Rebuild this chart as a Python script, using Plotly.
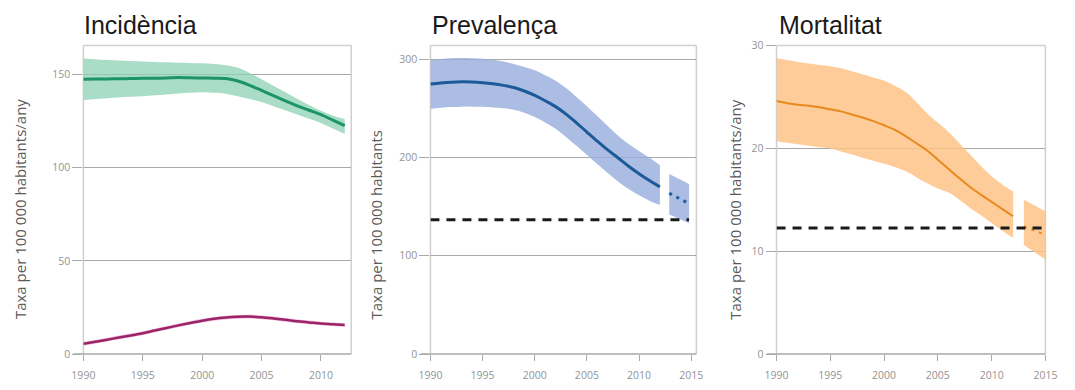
import plotly.graph_objects as go

W, H = 1075, 390

# ---- data -------------------------------------------------------------
years = list(range(1990, 2013))

# Incidència (taxa per 100 000 habitants/any)
inc_green = [147.4, 147.5, 147.6, 147.7, 147.8, 147.9, 148.0, 148.1, 148.3, 148.2, 148.1, 148.0,
             147.8, 146.5, 144.2, 141.4, 138.6, 135.8, 133.2, 130.8, 128.4, 125.5, 122.5]
inc_green_hi = [158.6, 158.2, 157.8, 157.5, 157.2, 156.9, 156.7, 156.5, 156.3, 156.2, 156.0, 155.6,
                155.0, 153.6, 150.8, 147.4, 144.0, 140.5, 137.0, 133.6, 130.5, 128.0, 126.0]
inc_green_lo = [136.2, 136.8, 137.3, 137.7, 138.0, 138.3, 138.8, 139.3, 139.8, 140.2, 140.5, 140.2,
                139.7, 138.3, 136.8, 135.2, 133.0, 130.8, 128.5, 126.2, 124.0, 121.0, 118.0]
inc_pink = [5.5, 6.6, 7.7, 8.9, 10.0, 11.2, 12.6, 14.0, 15.4, 16.7, 17.9, 18.9,
            19.6, 20.0, 20.1, 19.7, 19.1, 18.4, 17.6, 17.0, 16.4, 16.0, 15.6]
inc_pink_hi = [6.5, 7.6, 8.7, 9.9, 11.0, 12.2, 13.6, 15.0, 16.4, 17.7, 18.9, 19.9,
               20.6, 21.0, 21.1, 20.7, 20.1, 19.4, 18.6, 18.0, 17.4, 17.0, 16.6]
inc_pink_lo = [4.5, 5.6, 6.7, 7.9, 9.0, 10.2, 11.6, 13.0, 14.4, 15.7, 16.9, 17.9,
               18.6, 19.0, 19.1, 18.7, 18.1, 17.4, 16.6, 16.0, 15.4, 15.0, 14.6]

# Prevalença (taxa per 100 000 habitants)
prev = [274.5, 275.6, 276.4, 276.8, 276.6, 275.9, 274.8, 273.2, 271.0, 267.5, 263.0, 257.6,
        251.6, 244.0, 235.2, 225.8, 216.5, 207.6, 199.4, 191.0, 183.4, 176.4, 170.0]
prev_hi = [299.0, 300.0, 300.8, 301.0, 300.8, 300.2, 299.2, 297.5, 295.0, 292.0, 288.5, 283.5,
           278.0, 270.5, 261.5, 252.0, 242.0, 232.0, 222.0, 213.5, 206.5, 199.5, 192.0]
prev_lo = [249.5, 250.5, 251.2, 251.6, 251.6, 251.4, 250.8, 250.0, 248.5, 245.5, 241.0, 235.5,
           229.0, 220.8, 211.8, 202.6, 193.2, 184.0, 175.3, 167.8, 161.4, 156.0, 151.5]
prev_fc_years = [2012.9, 2014.8]
prev_fc = [163.5, 153.0]
prev_fc_hi = [183.0, 173.0]
prev_fc_lo = [142.0, 133.0]
prev_target = 136.6
prev_target_years = [1990, 2014.8]

# Mortalitat (taxa per 100 000 habitants/any)
mort = [24.6, 24.4, 24.25, 24.15, 24.0, 23.8, 23.6, 23.3, 23.0, 22.65, 22.25, 21.8,
        21.2, 20.5, 19.8, 18.9, 18.0, 17.1, 16.25, 15.5, 14.8, 14.1, 13.4]
mort_hi = [28.8, 28.6, 28.4, 28.25, 28.1, 28.0, 27.8, 27.5, 27.2, 26.9, 26.6, 26.1,
           25.5, 24.5, 23.4, 22.5, 21.6, 20.5, 19.4, 18.3, 17.3, 16.5, 15.8]
mort_lo = [20.7, 20.55, 20.4, 20.25, 20.1, 20.0, 19.7, 19.4, 19.1, 18.8, 18.5, 18.2,
           17.8, 17.2, 16.6, 16.1, 15.7, 15.0, 14.2, 13.5, 12.75, 12.0, 11.3]
mort_fc_years = [2013, 2015]
mort_fc = [12.4, 11.6]
mort_fc_hi = [15.0, 13.9]
mort_fc_lo = [10.6, 9.2]
mort_target = 12.25
mort_target_years = [1990, 2014.7]

titles = ["Incidència", "Prevalença", "Mortalitat"]
ytitles = ["Taxa per 100 000 habitants/any", "Taxa per 100 000 habitants",
           "Taxa per 100 000 habitants/any"]
x_ticks = [[1990, 1995, 2000, 2005, 2010], [1990, 1995, 2000, 2005, 2010, 2015],
           [1990, 1995, 2000, 2005, 2010, 2015]]
y_ticks = [[0, 50, 100, 150], [0, 100, 200, 300], [0, 10, 20, 30]]

# ---- layout geometry (pixels) -----------------------------------------
panel_px = [(73, 347), (428, 700), (782, 1057)]
x_ranges = [[1990, 2012.55], [1990, 2015.5], [1990, 2015]]
y_ranges = [[0, 165.5], [0, 313.7], [0, 30]]
top_px, bot_px = 40, 360
title_x = [72, 428, 782]
ytitle_x = [8, 372, 740]

GRID = "#a8a8a8"
FRAME = "#d0d0d0"
TICKFONT = dict(family="Open Sans", size=10.5, color="#939393")

fig = go.Figure()


def band(xs, lo, hi, color, ax):
    fig.add_trace(go.Scatter(x=xs, y=lo, mode="lines", line=dict(width=0, shape="spline"),
                             hoverinfo="skip", showlegend=False, xaxis="x" + ax, yaxis="y" + ax))
    fig.add_trace(go.Scatter(x=xs, y=hi, mode="lines", line=dict(width=0, shape="spline"),
                             fill="tonexty", fillcolor=color, hoverinfo="skip",
                             showlegend=False, xaxis="x" + ax, yaxis="y" + ax))


def line(xs, ys, color, width, ax, dash="solid", shape="spline"):
    fig.add_trace(go.Scatter(x=xs, y=ys, mode="lines",
                             line=dict(color=color, width=width, dash=dash, shape=shape),
                             showlegend=False, xaxis="x" + ax, yaxis="y" + ax))


# Incidència
band(years, inc_green_lo, inc_green_hi, "rgba(140,210,180,0.75)", "")
line(years, inc_green, "#1d9467", 3, "")
band(years, inc_pink_lo, inc_pink_hi, "rgba(230,150,200,0.6)", "")
line(years, inc_pink, "#9b2468", 2.5, "")

# Prevalença
band(years, prev_lo, prev_hi, "rgba(150,172,220,0.8)", "2")
line(years, prev, "#1c5a9a", 3, "2")
band(prev_fc_years, prev_fc_lo, prev_fc_hi, "rgba(150,172,220,0.8)", "2")
line(prev_fc_years, prev_fc, "#1c5a9a", 3, "2", dash="3px,5px", shape="linear")
line(prev_target_years, [prev_target, prev_target], "#1a1a1a", 3, "2", dash="9px,7px", shape="linear")

# Mortalitat
band(years, mort_lo, mort_hi, "rgba(253,195,135,0.85)", "3")
line(years, mort, "#e8891f", 2, "3")
band(mort_fc_years, mort_fc_lo, mort_fc_hi, "rgba(253,195,135,0.85)", "3")
line(mort_fc_years, mort_fc, "#e8891f", 2, "3", dash="3px,5px", shape="linear")
line(mort_target_years, [mort_target, mort_target], "#1a1a1a", 3, "3", dash="9px,7px", shape="linear")

ydom = [1 - bot_px / H, 1 - top_px / H]
layout = dict(width=W, height=H, margin=dict(l=0, r=0, t=0, b=0),
              paper_bgcolor="white", plot_bgcolor="white", showlegend=False)
shapes, annotations = [], []
for i in range(3):
    sfx = "" if i == 0 else str(i + 1)
    x0, x1 = panel_px[i]
    layout["xaxis" + sfx] = dict(
        domain=[x0 / W, x1 / W], range=x_ranges[i], anchor="y" + sfx,
        tickvals=x_ticks[i], ticks="outside", ticklen=6, tickcolor=GRID,
        ticklabelstandoff=5,
        showgrid=False, zeroline=False, showline=False, tickfont=TICKFONT)
    layout["yaxis" + sfx] = dict(
        domain=ydom, range=y_ranges[i], anchor="x" + sfx,
        tickvals=y_ticks[i], ticks="outside", ticklen=10, tickcolor=GRID,
        showgrid=True, gridcolor=GRID, gridwidth=1, zeroline=False, showline=False,
        tickfont=TICKFONT)
    xr, yr = "x" + sfx + " domain", "y" + sfx + " domain"
    # light frame on left, top and right
    shapes.append(dict(type="line", xref=xr, yref=yr, x0=0, x1=0, y0=0, y1=1,
                       line=dict(color=FRAME, width=1.5), layer="below"))
    shapes.append(dict(type="line", xref=xr, yref=yr, x0=0, x1=1, y0=1, y1=1,
                       line=dict(color=FRAME, width=1.5), layer="below"))
    shapes.append(dict(type="line", xref=xr, yref=yr, x0=1, x1=1, y0=0, y1=1,
                       line=dict(color=FRAME, width=1.5), layer="below"))
    # baseline axis extending under the tick marks
    shapes.append(dict(type="line", xref=xr, yref=yr, x0=-10 / (x1 - x0), x1=1, y0=0, y1=0,
                       line=dict(color=GRID, width=1.5)))
    annotations.append(dict(text=titles[i], xref="paper", yref="paper",
                            x=title_x[i] / W, y=1 - 19 / H, xanchor="left", yanchor="middle",
                            showarrow=False,
                            font=dict(family="Liberation Sans", size=25, color="#1a1a1a")))
    annotations.append(dict(text=ytitles[i], xref="paper", yref="paper", textangle=-90,
                            x=ytitle_x[i] / W, y=1 - 326 / H, xanchor="center", yanchor="bottom",
                            showarrow=False,
                            font=dict(family="Open Sans", size=15, color="#5a5a5a")))

layout["shapes"] = shapes
layout["annotations"] = annotations
fig.update_layout(**layout)
fig.write_html("out.html")
